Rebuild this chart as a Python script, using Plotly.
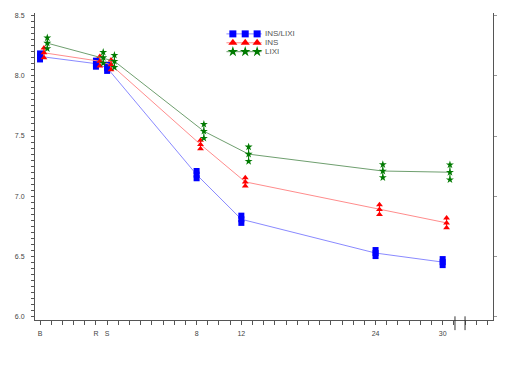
import plotly.graph_objects as go

weeks = [-6, -1, 0, 8, 12, 24, 30]
tick_labels = ["B", "R", "S", "8", "12", "24", "30"]

ins_lixi_mean = [8.16, 8.10, 8.065, 7.18, 6.81, 6.53, 6.455]
ins_lixi_sd = [0.025, 0.025, 0.025, 0.03, 0.03, 0.025, 0.025]

ins_mean = [8.19, 8.12, 8.09, 7.43, 7.12, 6.89, 6.78]
ins_sd = [0.04, 0.04, 0.04, 0.035, 0.035, 0.04, 0.04]

lixi_mean = [8.27, 8.15, 8.12, 7.54, 7.35, 7.21, 7.20]
lixi_sd = [0.045, 0.045, 0.05, 0.058, 0.06, 0.054, 0.062]

series = [
    ("INS/LIXI", ins_lixi_mean, ins_lixi_sd, 0.0, "#0000ff", "#8a8aff", "square", 6),
    ("INS", ins_mean, ins_sd, 0.35, "#ff0000", "#ff8c8c", "triangle-up", 6),
    ("LIXI", lixi_mean, lixi_sd, 0.65, "#007a00", "#6f9f6f", "star", 6),
]

fig = go.Figure()
for name, mean, sd, off, mcol, lcol, sym, size in series:
    xs = [w + off for w in weeks]
    fig.add_trace(go.Scatter(
        x=xs, y=mean, mode="lines+markers", name=name, showlegend=False,
        line=dict(color=lcol, width=1),
        marker=dict(symbol=sym, size=size, color=mcol, line=dict(width=0)),
        error_y=dict(type="data", array=sd, color=mcol, thickness=1, width=0),
    ))
    fig.add_trace(go.Scatter(
        x=xs + xs, y=[m + s for m, s in zip(mean, sd)] + [m - s for m, s in zip(mean, sd)],
        mode="markers", showlegend=False, hoverinfo="skip",
        marker=dict(symbol=sym, size=size, color=mcol, line=dict(width=0)),
    ))

# custom legend (three markers per row, like the original)
leg_rows = [0.932, 0.903, 0.874]
leg_x = [0.432, 0.459, 0.485]
for (name, mean, sd, off, mcol, lcol, sym, size), ly in zip(series, leg_rows):
    fig.add_trace(go.Scatter(
        x=[0.418] + leg_x + [0.495], y=[ly] * 5, xaxis="x2", yaxis="y3",
        mode="lines", line=dict(color=lcol, width=1), showlegend=False, hoverinfo="skip"))
    fig.add_trace(go.Scatter(
        x=leg_x, y=[ly] * 3, xaxis="x2", yaxis="y3", mode="markers",
        marker=dict(symbol=sym, size=7 if sym == "square" else 8, color=mcol, line=dict(width=0)),
        showlegend=False, hoverinfo="skip"))
    fig.add_annotation(x=0.498, y=ly, xref="x2", yref="y3", text=name, showarrow=False,
                       xanchor="left", yanchor="middle", font=dict(size=8, color="#555555"))

axis_col = "#555555"
fig.update_layout(
    width=524, height=375,
    margin=dict(l=27, r=39, t=5, b=63, autoexpand=False),
    plot_bgcolor="white", paper_bgcolor="white",
    font=dict(family="Liberation Sans, Arial, sans-serif", size=7, color="#444444"),
    showlegend=False,
    xaxis=dict(
        range=[-6.45, 34.5], showgrid=False, zeroline=False, automargin=False,
        showline=True, linecolor=axis_col, linewidth=1,
        tickmode="array", tickvals=weeks, ticktext=tick_labels,
        ticks="outside", ticklen=4, tickcolor=axis_col, tickwidth=1,
        minor=dict(dtick=1, tick0=0, ticks="outside", ticklen=4, tickcolor=axis_col, showgrid=False),
        tickfont=dict(size=7, color="#444444"), ticklabelstandoff=3,
    ),
    xaxis2=dict(range=[0, 1], overlaying="x", visible=False, automargin=False),
    yaxis=dict(
        range=[5.975, 8.52], showgrid=False, zeroline=False, automargin=False,
        showline=True, linecolor=axis_col, linewidth=1, mirror=True,
        tickmode="array", tickvals=[6.0, 6.5, 7.0, 7.5, 8.0, 8.5],
        ticktext=["6.0", "6.5", "7.0", "7.5", "8.0", "8.5"],
        ticks="outside", ticklen=3, tickcolor=axis_col,
        minor=dict(dtick=0.05, tick0=0, ticks="outside", ticklen=3, tickcolor=axis_col, showgrid=False),
        tickfont=dict(size=7, color="#444444"), ticklabelstandoff=5,
    ),
    yaxis2=dict(
        range=[5.975, 8.52], overlaying="y", side="right", showgrid=False, zeroline=False,
        showline=False, tickmode="array", tickvals=[6.0, 6.5, 7.0, 7.5, 8.0, 8.5],
        showticklabels=False, ticks="outside", ticklen=3, tickcolor="#999999", automargin=False,
    ),
    yaxis3=dict(range=[0, 1], overlaying="y", visible=False, automargin=False),
)
fig.add_trace(go.Scatter(x=[None], y=[None], yaxis="y2", showlegend=False, hoverinfo="skip"))

for xb in [31.1, 32.0]:
    fig.add_shape(type="line", xref="x", yref="paper", x0=xb, x1=xb, y0=0.012, y1=-0.033,
                  line=dict(color="#333333", width=1))

fig.write_html("out.html")
